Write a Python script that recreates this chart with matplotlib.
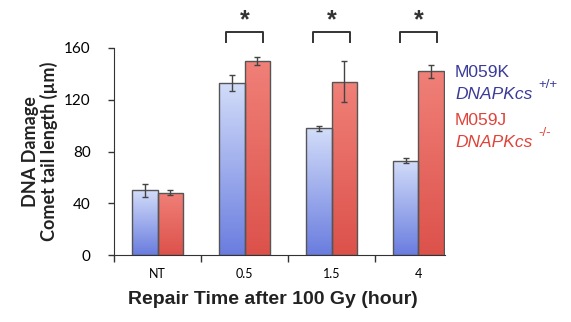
import numpy as np
import matplotlib
matplotlib.use('Agg')
import matplotlib.pyplot as plt
from matplotlib.colors import LinearSegmentedColormap

# data
categories = ['NT', '0.5', '1.5', '4']
m059k_vals = [50, 133, 98, 73]
m059k_err = [5, 6, 2, 2]
m059j_vals = [48, 150, 134, 142]
m059j_err = [2, 3, 16, 5]
signif = ['', '*', '*', '*']

plt.rcParams['font.family'] = ['Lato', 'DejaVu Sans']

fig = plt.figure(figsize=(5.71, 3.22), dpi=100)
ax = fig.add_axes([0.2, 0.208, 0.58, 0.643])

x = np.arange(len(categories))
w = 0.29
blue_cm = LinearSegmentedColormap.from_list('b', ['#6a7ddf', '#d2dcf9'])
red_cm = LinearSegmentedColormap.from_list('r', ['#dc524b', '#f08078'])
grad = np.linspace(0, 1, 100).reshape(-1, 1)


def draw_bars(xs, vals, errs, cmap):
    bars = ax.bar(xs, vals, w, color='none', edgecolor='#555555', linewidth=1.0, zorder=3)
    for b in bars:
        x0, h = b.get_x(), b.get_height()
        im = ax.imshow(grad, extent=[x0, x0 + w, 0, h], origin='lower', aspect='auto',
                       cmap=cmap, zorder=2)
        im.set_clip_path(b)
    ax.errorbar(xs, vals, yerr=errs, fmt='none', ecolor='#444444', elinewidth=1.0,
                capsize=2, capthick=1.0, zorder=4)


draw_bars(x - w / 2, m059k_vals, m059k_err, blue_cm)
draw_bars(x + w / 2, m059j_vals, m059j_err, red_cm)

# significance brackets
for i, s in enumerate(signif):
    if not s:
        continue
    xl, xr = x[i] - 0.21, x[i] + 0.21
    ax.plot([xl, xl, xr, xr], [165, 172, 172, 165], color='#333333', lw=1.4,
            clip_on=False, zorder=5)
    ax.text(x[i], 172, s, ha='center', va='bottom', fontsize=18, fontweight='bold',
            color='#333333', clip_on=False, family='Liberation Sans')

ax.set_xlim(-0.5, len(categories) - 1 + w + 0.02)
ax.set_ylim(0, 160)
ax.set_yticks([0, 40, 80, 120, 160])
ax.set_xticks(np.arange(len(categories)) - 0.5)
ax.set_xticklabels([])
ax.set_xticks(x, minor=True)
ax.set_xticklabels(categories, minor=True)
ax.tick_params(axis='x', which='minor', length=0, labelsize=9, pad=9)
ax.tick_params(axis='x', which='major', length=5, direction='out', width=1, color='#333333')
ax.tick_params(axis='y', length=4, direction='out', labelsize=11, width=1, color='#333333',
               pad=13)
ax.spines['top'].set_visible(False)
ax.spines['right'].set_visible(False)
for sp in ('left', 'bottom'):
    ax.spines[sp].set_color('#333333')

ax.set_xlabel('Repair Time after 100 Gy (hour)', fontsize=14, fontweight='bold',
              family='Liberation Sans', color='#222222')
ax.xaxis.set_label_coords(0.48, -0.175)
ax.set_ylabel('DNA Damage\nComet tail length (µm)', fontsize=13, fontweight='bold',
              labelpad=4, linespacing=1.1, color='#222222')

# legend as coloured text with superscripts
fig.canvas.draw()
renderer = fig.canvas.get_renderer()
legend_items = [('M059K', '+/+', '#3b3b9a', 245), ('M059J', '-/-', '#e0433a', 197)]
for name, sup, col, ypix in legend_items:
    fig.text(455 / 571, ypix / 322, name, color=col, fontsize=12.5, family='Liberation Sans')
    t = fig.text(455 / 571, (ypix - 22) / 322, 'DNAPKcs', color=col, fontsize=12.5,
                 family='Liberation Sans', style='italic')
    bb = t.get_window_extent(renderer)
    fig.text(bb.x1 / 571 + 0.01, (ypix - 11) / 322, sup, color=col, fontsize=9.5,
             family='Liberation Sans')

fig.savefig('out.png', dpi=100)
